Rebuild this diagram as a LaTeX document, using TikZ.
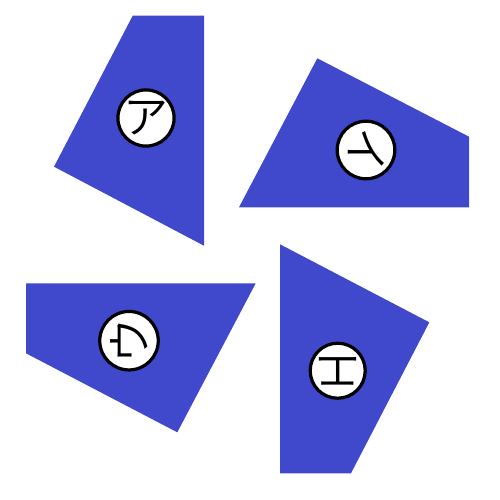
\documentclass[tikz,border=0pt]{standalone}
\usepackage{fontspec}
\newfontfamily\cjk{Noto Sans CJK JP DemiLight}
\definecolor{BladeBlue}{RGB}{64, 72, 204}

\begin{document}
\begin{tikzpicture}[
        x=1pt, y=-1pt,
        blade/.style={fill=BladeBlue, draw=none},
        badge/.style={circle, draw=black, fill=white, line width=3.2pt, minimum size=55pt, inner sep=0pt, font=\cjk\fontsize{45}{45}\selectfont}
    ]
        \useasboundingbox (0, 0) rectangle (500, 500);

        % Top left blade
        \fill[blade] (132.7, 15.7) -- (204, 15.7) -- (204, 245.7) -- (54, 166.7) -- cycle;
        \node[badge] (a) at (146, 118) {ア};

        % Top right blade
        \fill[blade] (317.3, 58.3) -- (469, 136.7) -- (469, 207.3) -- (239, 207.3) -- cycle;
        \node[badge, rotate=-90] (i) at (366, 150) {イ};

        % Bottom left blade
        \fill[blade] (26, 283.3) -- (255.7, 283.3) -- (177.3, 432.3) -- (26, 353.3) -- cycle;
        \node[badge, rotate=90] (u) at (129, 340.7) {ウ};

        % Bottom right blade
        \fill[blade] (280, 244.3) -- (429.3, 322.3) -- (351, 473.3) -- (280, 473.3) -- cycle;
        \node[badge, rotate=180] (e) at (337.7, 370.7) {エ};
    \end{tikzpicture}
\end{document}
